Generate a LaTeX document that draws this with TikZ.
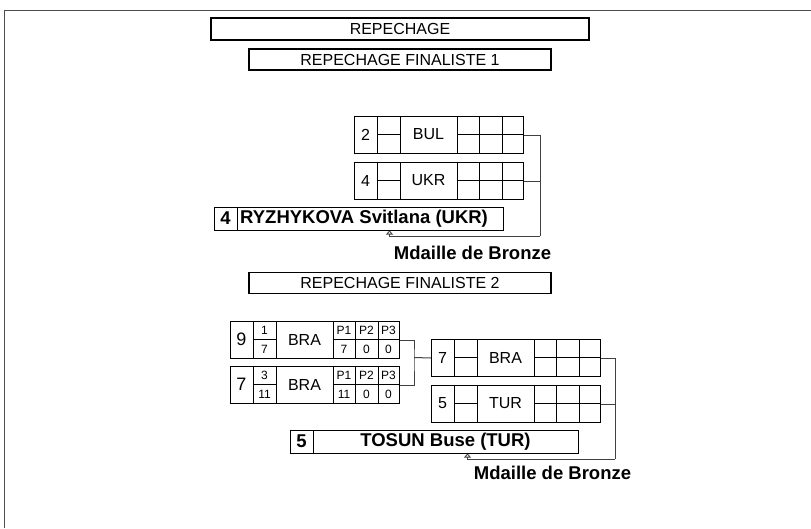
\documentclass[tikz,border=0pt]{standalone}
\usepackage{fontspec}
\setmainfont{Liberation Sans}
\usetikzlibrary{arrows.meta,calc}
\tikzset{
  titlebox/.style={draw=black, inner sep=0pt, font=\fontsize{16}{18}\selectfont},
  pboxst/.style={draw=black, line width=1pt, anchor=north west, minimum width=169pt, minimum height=37pt, inner sep=0pt},
  cellline/.style={draw=black, line width=1pt},
  numst/.style={inner sep=0pt, font=\fontsize{16}{18}\selectfont},
  bignumst/.style={inner sep=0pt, font=\fontsize{18}{20}\selectfont},
  ctyst/.style={inner sep=0pt, font=\fontsize{16}{18}\selectfont},
  smallst/.style={inner sep=0pt, font=\fontsize{12}{14}\selectfont},
  namebox/.style={draw=black, line width=1pt, inner sep=0pt, minimum height=23pt},
  boldst/.style={inner sep=0pt, font=\fontsize{18.5}{20}\selectfont\bfseries},
  conn/.style={draw=black!75, line width=1pt},
  upar/.style={-{Triangle[open,width=7pt,length=4pt,line width=0.8pt]}},
  frame/.style={draw=black!70, line width=1pt}
}
\newcommand{\entrybox}[5]{%
\begin{scope}[shift={(#2,#3)}]
\node[pboxst] (#1) at (0,0) {};
\draw[cellline] (23,0) -- (23,37) (46,0) -- (46,37) (103,0) -- (103,37)
  (125,0) -- (125,37) (148,0) -- (148,37)
  (23,18.5) -- (46,18.5) (103,18.5) -- (169,18.5);
\node[ctyst] (#1-c) at (74.5,18.5) {#5};
\ifx\relax#4\relax\else\node[numst] (#1-n) at (11.5,18.5) {#4};\fi
\end{scope}}
\newcommand{\scorebox}[9]{%
\begin{scope}[shift={(#2,#3)}]
\node[bignumst] (#1-n) at (11.5,18.5) {#9};
\node[smallst] (#1-a) at (34.5,9.8) {#4};
\node[smallst] (#1-b) at (34.5,28.2) {#5};
\node[smallst] (#1-p1) at (114,9.8) {P1};
\node[smallst] (#1-p2) at (136.5,9.8) {P2};
\node[smallst] (#1-p3) at (158.5,9.8) {P3};
\node[smallst] (#1-s1) at (114,28.2) {#6};
\node[smallst] (#1-s2) at (136.5,28.2) {#7};
\node[smallst] (#1-s3) at (158.5,28.2) {#8};
\end{scope}}
\begin{document}
\begin{tikzpicture}[x=1pt,y=-1pt]
\useasboundingbox (0,0) rectangle (811,528);
\draw[frame] (4,528) -- (4,10.5) -- (811,10.5);

\node[titlebox, line width=2.2pt, minimum width=378pt, minimum height=22pt] (rep) at (400,29) {REPECHAGE};
\node[titlebox, line width=1.8pt, minimum width=302pt, minimum height=21pt] (fin1) at (400,59.5) {REPECHAGE FINALISTE 1};
\node[titlebox, line width=1.8pt, minimum width=302pt, minimum height=21pt] (fin2) at (400,283) {REPECHAGE FINALISTE 2};

% group 1
\entrybox{bul}{354}{116}{2}{BUL}
\entrybox{ukr}{354}{162}{4}{UKR}
\node[namebox, minimum width=289pt] (ryz) at (358.5,218.5) {};
\draw[cellline] (237,207) -- (237,230);
\node[boldst] (ryz-n) at (225.5,218.5) {4};
\node[boldst, anchor=west] (ryz-t) at (240,218.5) {RYZHYKOVA Svitlana (UKR)};
\coordinate (j1) at (540,236);
\draw[conn] (bul.east) -| (j1);
\draw[conn] (ukr.east) -- (ukr.east -| j1);
\draw[conn, upar] (j1) -| ($(ryz.south west)+(176,0)$);
\node[boldst] (med1) at (472.5,253) {Mdaille de Bronze};

% group 2
\entrybox{bra1}{230}{321}{}{BRA}
\scorebox{bra1}{230}{321}{1}{7}{7}{0}{0}{9}
\entrybox{bra2}{230}{366}{}{BRA}
\scorebox{bra2}{230}{366}{3}{11}{11}{0}{0}{7}
\coordinate (j2) at (414,357.5);
\draw[conn] (bra1.east) -| (j2) |- (bra2.east);
\entrybox{bra7}{431}{339}{7}{BRA}
\entrybox{tur}{431}{385}{5}{TUR}
\draw[conn] (j2) -- (bra7.west);
\node[namebox, minimum width=288pt] (tos) at (434,441.5) {};
\draw[cellline] (313,430) -- (313,453);
\node[boldst] (tos-n) at (301.5,441.5) {5};
\node[boldst] (tos-t) at (445.5,441.5) {TOSUN Buse (TUR)};
\coordinate (j3) at (615,459);
\draw[conn] (bra7.east) -| (j3);
\draw[conn] (tur.east) -- (tur.east -| j3);
\draw[conn, upar] (j3) -| ($(tos.south west)+(178,0)$);
\node[boldst] (med2) at (552.5,473) {Mdaille de Bronze};
\end{tikzpicture}
\end{document}
